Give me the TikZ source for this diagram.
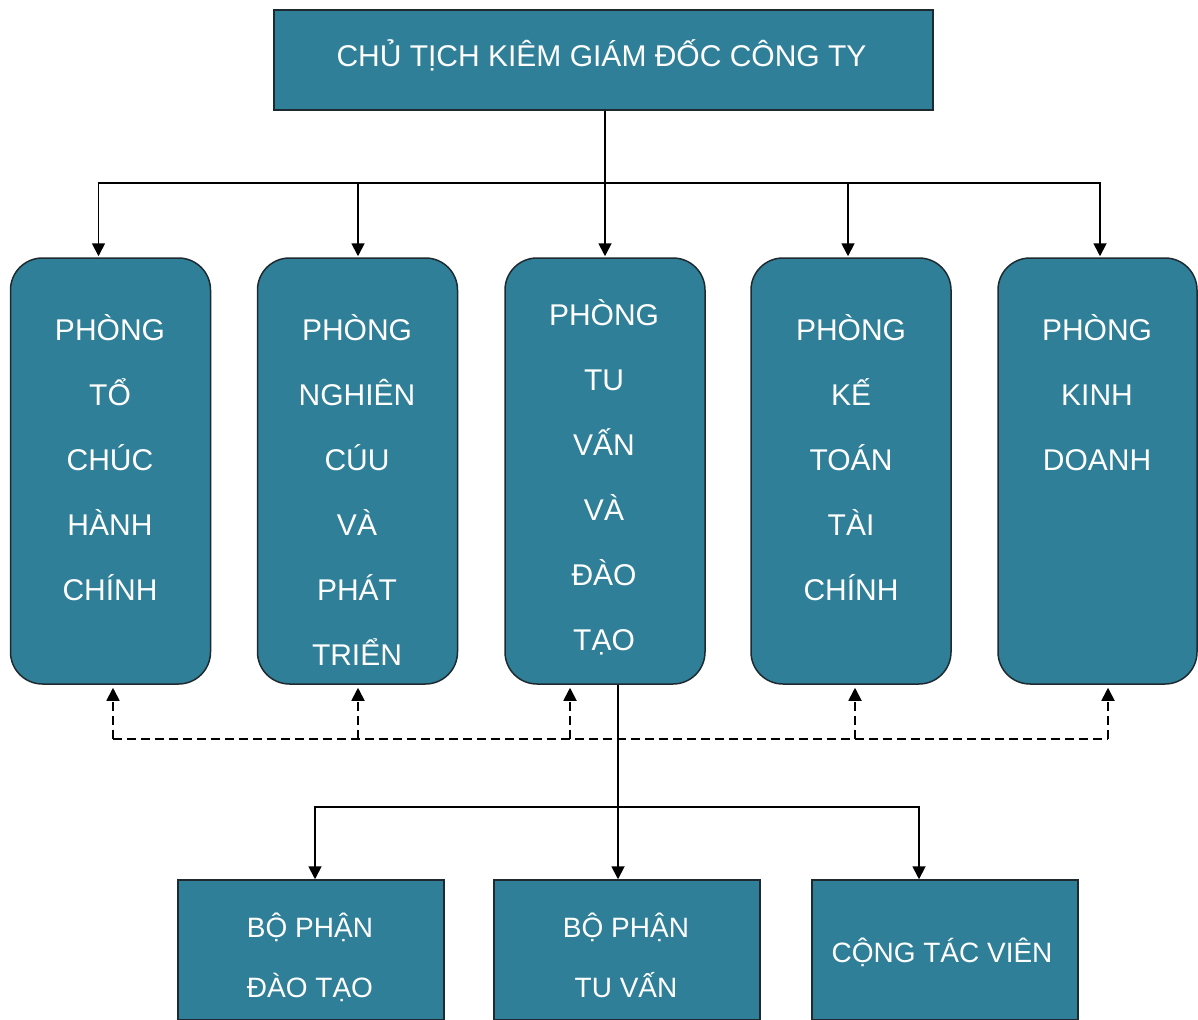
\documentclass[tikz,border=0pt]{standalone}
\usepackage{fontspec}
\setmainfont{Liberation Sans}
\usetikzlibrary{arrows.meta,calc}
\definecolor{tealbox}{HTML}{2F7F98}
\definecolor{bordc}{HTML}{1E2A30}
\begin{document}
\begin{tikzpicture}[x=1pt,y=-1pt,
  boxs/.style={draw=bordc, line width=1.5pt, fill=tealbox, inner sep=0pt},
  dept/.style={boxs, rounded corners=32pt, minimum width=200pt, minimum height=426pt},
  subbox/.style={boxs, minimum width=266pt, minimum height=140pt},
  lbl/.style={text=white, font=\fontsize{30}{36}\selectfont, anchor=base, inner sep=0pt},
  sublbl/.style={lbl, font=\fontsize{28}{34}\selectfont},
  conn/.style={line width=1.8pt, black},
  arr/.style={conn, -{Triangle[length=13pt,width=13pt]}},
  dline/.style={line width=1.8pt, black, dash pattern=on 9pt off 5pt},
  darr/.style={dline, -{Triangle[length=13pt,width=13pt]}},
]
\useasboundingbox (0,0) rectangle (1198,1019);

% top box
\node[boxs, minimum width=659pt, minimum height=100pt] (top) at (603.5,60) {};
\node[lbl] (toptext) at (601.5,67) {CHỦ TỊCH KIÊM GIÁM ĐỐC CÔNG TY};

% department boxes
\node[dept] (d1) at (110.5,471) {};
\node[dept] (d2) at (357.5,471) {};
\node[dept] (d3) at (605,471) {};
\node[dept] (d4) at (851,471) {};
\node[dept, minimum width=199pt] (d5) at (1097.5,471) {};

\foreach \w [count=\i] in {PHÒNG,TỔ,CHÚC,HÀNH,CHÍNH}
  \node[lbl] (ta\i) at (110,{340+65*(\i-1)}) {\w};
\foreach \w [count=\i] in {PHÒNG,NGHIÊN,CÚU,VÀ,PHÁT,TRIỂN}
  \node[lbl] (tb\i) at (357,{340+65*(\i-1)}) {\w};
\foreach \w [count=\i] in {PHÒNG,TU,VẤN,VÀ,ĐÀO,TẠO}
  \node[lbl] (tc\i) at (604,{325+65*(\i-1)}) {\w};
\foreach \w [count=\i] in {PHÒNG,KẾ,TOÁN,TÀI,CHÍNH}
  \node[lbl] (td\i) at (851,{340+65*(\i-1)}) {\w};
\foreach \w [count=\i] in {PHÒNG,KINH,DOANH}
  \node[lbl] (te\i) at (1097,{340+65*(\i-1)}) {\w};

% sub boxes
\node[subbox] (s1) at (311,950) {};
\node[subbox] (s2) at (627,950) {};
\node[subbox] (s3) at (945,950) {};
\node[sublbl] (s1a) at (310,937) {BỘ PHẬN};
\node[sublbl] (s1b) at (310,997) {ĐÀO TẠO};
\node[sublbl] (s2a) at (626,937) {BỘ PHẬN};
\node[sublbl] (s2b) at (626,997) {TU VẤN};
\node[sublbl] (s3a) at (942,962) {CỘNG TÁC VIÊN};

% top connectors
\draw[conn] ([xshift=1.5pt]top.south) -- ++(0,72) coordinate (hb);
\draw[arr, shorten >=1pt] (hb) -| ([xshift=-12pt]d1.north);
\draw[arr, shorten >=1pt] (hb) -| ([xshift=0.5pt]d2.north);
\draw[arr, shorten >=1pt] (hb) -- (d3.north);
\draw[arr, shorten >=1pt] (hb) -| ([xshift=-3pt]d4.north);
\draw[arr, shorten >=1pt] (hb) -| ([xshift=2.5pt]d5.north);

% dashed feedback line
\coordinate (q1) at ($(d1.south)+(2.5,54)$);
\coordinate (q2) at ($(d2.south)+(0.5,54)$);
\coordinate (q3) at ($(d3.south)+(-35,54)$);
\coordinate (q4) at ($(d4.south)+(4,54)$);
\coordinate (q5) at ($(d5.south)+(10.5,54)$);
\draw[dline] (q1) -- (q5);
\draw[darr, shorten >=3pt] (q1) -- (q1 |- d1.south);
\draw[darr, shorten >=3pt] (q2) -- (q2 |- d2.south);
\draw[darr, shorten >=3pt] (q3) -- (q3 |- d3.south);
\draw[darr, shorten >=3pt] (q4) -- (q4 |- d4.south);
\draw[darr, shorten >=3pt] (q5) -- (q5 |- d5.south);

% bottom connectors
\draw[arr] ([xshift=13pt]d3.south) -- ([xshift=-9pt]s2.north);
\coordinate (hs) at ($(d3.south)+(13,122)$);
\draw[arr] (hs) -| ([xshift=4pt]s1.north);
\draw[arr] (hs) -| ([xshift=-26pt]s3.north);
\end{tikzpicture}
\end{document}
